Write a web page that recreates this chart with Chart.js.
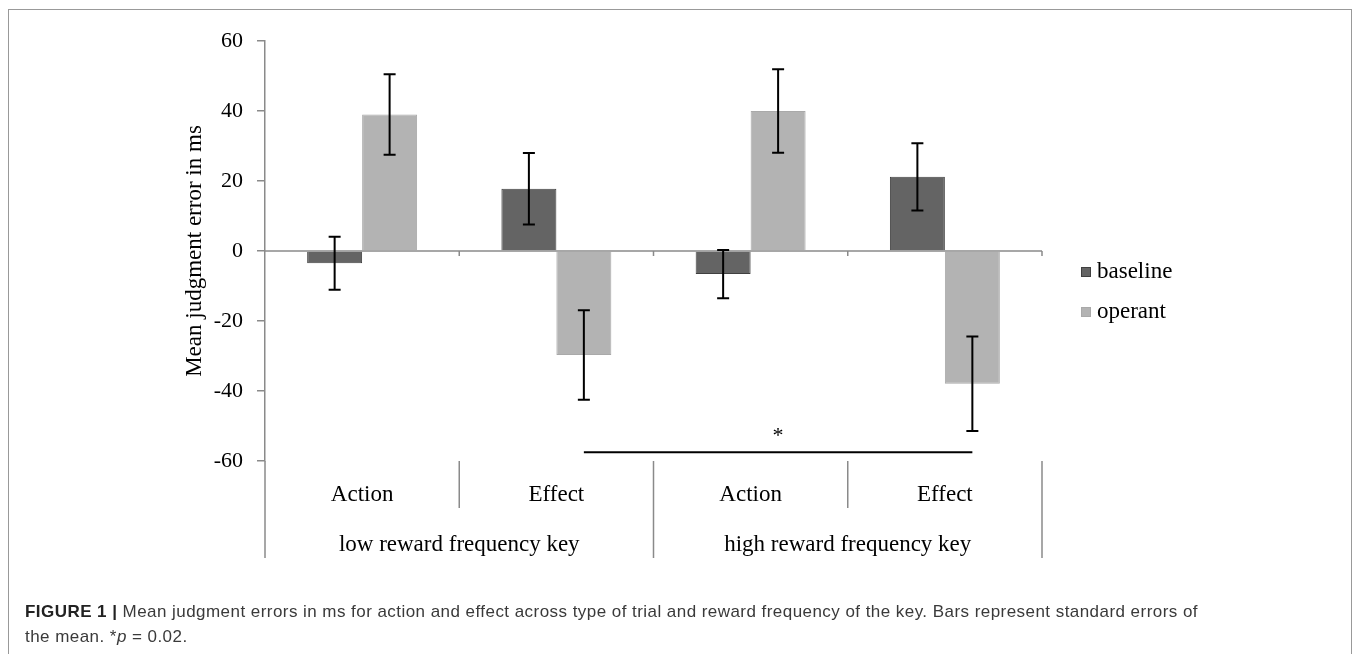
<!DOCTYPE html>
<html>
<head>
<meta charset="utf-8">
<script src="https://cdn.jsdelivr.net/npm/chart.js@4"></script>
<style>
  html, body { margin: 0; padding: 0; background: #fff; }
  body { width: 1358px; height: 654px; position: relative; overflow: hidden; }
  #frame { position: absolute; left: 8px; top: 9px; width: 1344px; height: 720px; border: 1px solid #999; box-sizing: border-box; }
  #chart { position: absolute; left: 0; top: 0; }
  #caption { position: absolute; left: 25px; top: 599px; font: 17px 'Liberation Sans', Arial, sans-serif; letter-spacing: 0.45px; color: #3a3a3a; line-height: 25px; white-space: nowrap; }
  #caption b { color: #222; }
</style>
</head>
<body>
<div id="frame"></div>
<canvas id="chart" width="1358" height="654"></canvas>
<div id="caption"><b>FIGURE 1 |</b> Mean judgment errors in ms for action and effect across type of trial and reward frequency of the key. Bars represent standard errors of<br>the mean. *<i>p</i> = 0.02.</div>
<script>
// values
const categories = ['Action', 'Effect', 'Action', 'Effect'];
const groups = ['low reward frequency key', 'high reward frequency key'];
const seriesNames = ['baseline', 'operant'];
const baseline = [-3.5, 17.8, -6.6, 21.2];
const baselineErr = [7.6, 10.2, 6.9, 9.6];
const operant = [39.0, -29.7, 40.0, -37.9];
const operantErr = [11.5, 12.8, 11.9, 13.5];
const yMin = -60, yMax = 60, yStep = 20;
const sigPair = [1, 3];      // operant Effect, low vs high key
const sigLevel = -57.5;
const sigLabel = '*';

const serif = 'Liberation Serif, Times New Roman, serif';
const axisGray = '#8a8a8a';

// error bars on top of each bar
const errorBars = {
    id: 'errorBars',
    afterDatasetsDraw(chart) {
        const ctx = chart.ctx;
        const y = chart.scales.y;
        chart.data.datasets.forEach((ds, i) => {
            chart.getDatasetMeta(i).data.forEach((bar, j) => {
                const top = y.getPixelForValue(ds.data[j] + ds.errors[j]);
                const bot = y.getPixelForValue(ds.data[j] - ds.errors[j]);
                ctx.save();
                ctx.strokeStyle = '#000';
                ctx.lineWidth = 2;
                ctx.beginPath();
                ctx.moveTo(bar.x, top); ctx.lineTo(bar.x, bot);
                ctx.moveTo(bar.x - 6, top); ctx.lineTo(bar.x + 6, top);
                ctx.moveTo(bar.x - 6, bot); ctx.lineTo(bar.x + 6, bot);
                ctx.stroke();
                ctx.restore();
            });
        });
    }
};

// zero line, category boxes underneath, significance bracket, legend
const annotations = {
    id: 'annotations',
    beforeDatasetsDraw(chart) {
        const ctx = chart.ctx;
        const x = chart.scales.x;
        const y = chart.scales.y;
        const area = chart.chartArea;
        const y0 = y.getPixelForValue(0);
        ctx.save();
        ctx.strokeStyle = axisGray;
        ctx.lineWidth = 1.5;
        ctx.beginPath();
        ctx.moveTo(area.left, y0); ctx.lineTo(area.right, y0);
        for (let i = 1; i <= categories.length; i++) {
            const bx = i < categories.length
                ? (x.getPixelForValue(i - 1) + x.getPixelForValue(i)) / 2
                : area.right;
            ctx.moveTo(bx, y0); ctx.lineTo(bx, y0 + 5);
        }
        ctx.stroke();
        ctx.restore();
    },
    afterDraw(chart) {
        const ctx = chart.ctx;
        const x = chart.scales.x;
        const y = chart.scales.y;
        const area = chart.chartArea;
        const bottom = area.bottom;

        // divider lines below the plot
        ctx.save();
        ctx.strokeStyle = axisGray;
        ctx.lineWidth = 1.5;
        ctx.beginPath();
        const perGroup = categories.length / groups.length;
        for (let i = 0; i <= categories.length; i++) {
            let bx;
            if (i === 0) bx = area.left;
            else if (i === categories.length) bx = area.right;
            else bx = (x.getPixelForValue(i - 1) + x.getPixelForValue(i)) / 2;
            const outer = i % perGroup === 0;
            ctx.moveTo(bx, bottom); ctx.lineTo(bx, bottom + (outer ? 97 : 47));
        }
        ctx.stroke();

        // category and group labels
        ctx.fillStyle = '#000';
        ctx.font = '23px ' + serif;
        ctx.textAlign = 'center';
        ctx.textBaseline = 'middle';
        categories.forEach((c, i) => ctx.fillText(c, x.getPixelForValue(i), bottom + 34));
        groups.forEach((g, k) => {
            const a = x.getPixelForValue(k * perGroup);
            const b = x.getPixelForValue(k * perGroup + perGroup - 1);
            ctx.fillText(g, (a + b) / 2, bottom + 84);
        });

        // significance bracket
        const meta = chart.getDatasetMeta(1);
        const x1 = meta.data[sigPair[0]].x;
        const x2 = meta.data[sigPair[1]].x;
        const ys = y.getPixelForValue(sigLevel);
        ctx.strokeStyle = '#000';
        ctx.lineWidth = 2;
        ctx.beginPath();
        ctx.moveTo(x1, ys); ctx.lineTo(x2, ys);
        ctx.stroke();
        ctx.font = '22px ' + serif;
        ctx.fillText(sigLabel, (x1 + x2) / 2, ys - 16);

        // legend
        ctx.textAlign = 'left';
        chart.data.datasets.forEach((ds, i) => {
            const ly = 272 + i * 40;
            ctx.fillStyle = ds.backgroundColor;
            ctx.fillRect(1081, ly - 5, 10, 10);
            ctx.strokeStyle = ds.borderColor;
            ctx.lineWidth = 1;
            ctx.strokeRect(1081.5, ly - 4.5, 9, 9);
            ctx.fillStyle = '#000';
            ctx.font = '23px ' + serif;
            ctx.fillText(ds.label, 1097, ly);
        });
        ctx.restore();
    }
};

new Chart(document.getElementById('chart').getContext('2d'), {
    type: 'bar',
    data: {
        labels: categories,
        datasets: [
            {
                label: seriesNames[0],
                data: baseline,
                errors: baselineErr,
                backgroundColor: '#646464',
                borderColor: '#404040',
                borderWidth: 1,
            },
            {
                label: seriesNames[1],
                data: operant,
                errors: operantErr,
                backgroundColor: '#b3b3b3',
                borderColor: '#a9a9a9',
                borderWidth: 1,
            }
        ]
    },
    options: {
        responsive: false,
        animation: false,
        datasets: {
            bar: { categoryPercentage: 0.566, barPercentage: 1.0 }
        },
        layout: { padding: { left: 175, top: 41, right: 316, bottom: 193 } },
        plugins: {
            legend: { display: false },
            tooltip: { enabled: false }
        },
        scales: {
            x: { display: false },
            y: {
                min: yMin,
                max: yMax,
                ticks: {
                    stepSize: yStep,
                    color: '#000',
                    padding: 14,
                    font: { family: serif, size: 22 }
                },
                grid: {
                    drawOnChartArea: false,
                    drawTicks: true,
                    tickLength: 8,
                    color: axisGray,
                    lineWidth: 1.5
                },
                border: { color: axisGray, width: 1.5 },
                title: {
                    display: true,
                    text: 'Mean judgment error in ms',
                    color: '#000',
                    font: { family: serif, size: 23 },
                    padding: { top: 6, bottom: 0 }
                },
                afterFit(scale) { scale.width = 90; }
            }
        }
    },
    plugins: [errorBars, annotations]
});
</script>
</body>
</html>
